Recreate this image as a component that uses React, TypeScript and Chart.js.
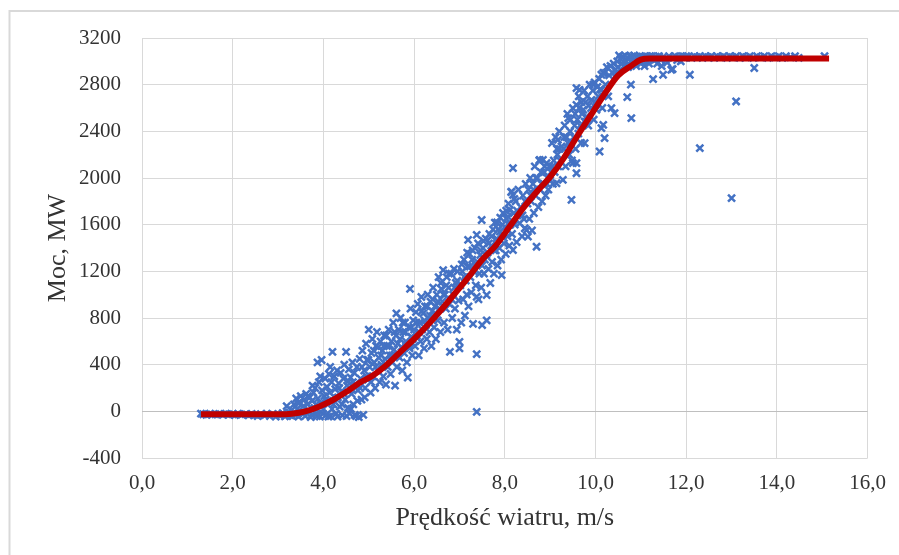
import React, { useEffect, useRef } from "react";
import { Chart, registerables } from "chart.js";

Chart.register(...registerables);

// Tick labels
const xTickValues = [0, 2, 4, 6, 8, 10, 12, 14, 16];
const yTickValues = [-400, 0, 400, 800, 1200, 1600, 2000, 2400, 2800, 3200];

const xTitle = "Prędkość wiatru, m/s";
const yTitle = "Moc, MW";

// Measured points: [wind speed m/s, power MW]
const measuredPoints: [number, number][] = [
  [1.30,-20],[1.35,-25],[1.42,-30],[1.50,-20],[1.55,-28],[1.62,-25],[1.70,-22],[1.78,-30],[1.85,-20],[1.92,-27],
  [2.00,-25],[2.05,-32],[2.12,-20],[2.20,-28],[2.28,-24],[2.35,-35],[2.42,-22],[2.50,-30],[2.55,-40],[2.62,-25],
  [2.70,-35],[2.75,-20],[2.82,-40],[2.90,-28],[2.95,-45],[3.00,-22],[3.05,-38],[3.10,-15],[3.15,-42],[3.19,44],
  [3.20,-25],[3.25,-10],[3.28,-35],
  [3.30,10],[3.35,60],[3.38,-30],[3.40,110],[3.42,20],[3.45,-45],[3.48,80],[3.50,130],[3.52,-10],[3.55,40],
  [3.58,100],[3.60,-40],[3.62,150],[3.65,60],[3.68,5],[3.70,120],
  [3.32,-40],[3.44,70],[3.56,-20],[3.66,130],[3.74,-30],[3.76,220],[3.84,60],[3.86,-40],[3.93,300],[3.99,-20],
  [3.72,-50],[3.75,90],[3.78,160],[3.80,30],[3.82,200],[3.85,-20],[3.87,420],[3.88,110],[3.90,250],[3.92,-45],
  [3.94,70],[3.96,440],[3.97,180],[4.00,20],[4.02,130],[4.04,280],
  [4.06,-30],[4.08,210],[4.10,90],[4.12,320],[4.14,160],[4.16,-40],[4.18,250],[4.20,510],[4.22,60],[4.24,300],
  [4.26,190],[4.28,-20],[4.30,350],[4.32,120],[4.34,240],[4.36,40],[4.38,330],[4.40,170],[4.42,-35],[4.44,280],
  [4.46,400],[4.48,100],[4.50,510],[4.52,220],[4.54,30],[4.56,360],[4.58,-20],[4.60,290],
  [4.05,100],[4.11,-45],[4.15,380],[4.19,20],[4.25,120],[4.31,-45],[4.35,200],[4.41,60],[4.45,150],[4.51,-40],
  [4.55,260],[4.61,20],[4.65,250],[4.69,-30],[4.75,90],[4.81,200],[4.85,380],[4.91,120],[4.95,300],[4.99,440],
  [4.62,150],[4.64,420],[4.66,60],[4.68,330],[4.70,230],[4.72,-40],[4.74,380],[4.76,180],[4.78,-50],[4.80,450],
  [4.82,280],[4.84,100],[4.86,520],[4.88,-30],[4.90,350],[4.92,200],[4.94,580],[4.96,440],[4.98,270],[5.00,700],
  [5.02,380],[5.04,160],[5.06,500],[5.08,620],[5.10,300],[5.12,420],[5.14,200],[5.16,560],[5.18,680],[5.20,350],
  [5.22,460],[5.24,250],[5.26,600],[5.28,400],[5.30,520],[5.32,300],[5.34,650],[5.36,450],[5.38,230],[5.40,560],
  [5.42,380],[5.44,700],[5.46,480],[5.48,320],[5.50,600],
  [5.05,250],[5.11,520],[5.15,380],[5.21,550],[5.27,480],[5.33,560],[5.39,650],[5.45,560],[5.51,480],[5.57,680],
  [5.63,480],[5.69,620],[5.75,760],[5.81,680],[5.87,560],[5.93,720],[5.97,620],
  [5.52,420],[5.54,760],[5.56,530],[5.58,220],[5.60,650],[5.61,840],[5.62,380],[5.64,580],[5.66,700],[5.68,460],
  [5.70,800],[5.72,550],[5.74,350],[5.76,680],[5.78,500],[5.80,760],[5.82,600],[5.84,420],[5.86,290],[5.88,720],
  [5.90,540],[5.91,1050],[5.92,880],[5.94,640],[5.96,480],[5.98,780],[6.00,700],
  [6.02,560],[6.04,850],[6.06,650],[6.08,920],[6.10,480],[6.12,760],[6.14,600],[6.16,980],[6.18,700],[6.20,840],
  [6.22,540],[6.24,900],[6.26,740],[6.28,620],[6.30,1000],[6.32,800],[6.34,680],[6.36,940],[6.38,560],[6.40,860],
  [6.42,1060],[6.44,720],[6.46,900],[6.48,620],[6.50,1000],
  [6.05,760],[6.11,680],[6.17,860],[6.23,780],[6.29,900],[6.35,820],[6.41,960],[6.47,840],[6.53,940],[6.59,1100],
  [6.65,1000],[6.71,1080],[6.77,1180],[6.83,960],[6.89,1060],[6.95,1120],
  [6.52,780],[6.54,1150],[6.56,880],[6.58,680],[6.60,1050],[6.62,940],[6.64,1210],[6.66,760],[6.68,1000],[6.70,880],
  [6.72,1150],[6.74,700],[6.76,1060],[6.78,920],[6.79,510],[6.82,1180],[6.84,800],[6.86,1000],[6.88,1220],[6.90,880],
  [6.92,1100],[6.94,700],[6.96,1200],[6.98,950],[7.00,540],[7.00,595],
  [7.02,1080],[7.04,760],[7.06,1200],[7.08,960],[7.10,1300],[7.12,820],[7.14,1120],[7.16,1000],[7.18,1240],[7.19,1470],
  [7.20,900],[7.22,1350],[7.24,1150],[7.26,1020],[7.28,1300],[7.30,750],[7.32,1200],[7.34,1400],[7.36,1080],[7.38,1512],
  [7.38,490],[7.38,-5],[7.38,982],[7.40,1280],[7.42,960],[7.44,1180],[7.46,1340],[7.48,1060],[7.49,1640],[7.50,1250],
  [7.50,740],[7.60,780],
  [7.05,1260],[7.11,1150],[7.17,1360],[7.23,1240],[7.29,1380],[7.35,1260],[7.41,1440],[7.47,1380],[7.53,1460],[7.59,1340],
  [7.65,1440],[7.71,1500],[7.77,1380],[7.83,1620],[7.89,1540],[7.95,1600],
  [7.52,1400],[7.54,1180],[7.56,1300],[7.58,1480],[7.60,997],[7.62,1360],[7.64,1220],[7.66,1520],[7.68,1100],[7.70,1420],
  [7.72,1280],[7.74,1560],[7.76,1180],[7.78,1617],[7.80,1380],[7.82,1480],[7.84,1250],[7.86,1560],[7.88,1400],[7.90,1660],
  [7.92,1300],[7.93,1168],[7.94,1500],[7.96,1700],[7.98,1440],[8.00,1580],
  [8.02,1350],[8.04,1650],[8.06,1500],[8.07,1669],[8.08,1780],[8.10,1420],[8.11,1726],[8.12,1600],[8.14,1880],[8.15,1883],
  [8.16,1520],[8.18,2084],[8.18,1855],[8.18,1383],[8.20,1700],[8.22,1600],[8.24,1800],[8.26,1450],[8.28,1680],[8.30,1900],
  [8.33,1612],[8.35,1750],[8.38,1500],[8.40,1850],[8.42,1650],[8.44,1569],[8.46,1950],[8.48,1554],[8.50,1780],[8.51,1497],
  [8.03,1720],[8.09,1600],[8.21,1820],[8.27,1720],[8.39,1680],[8.45,1800],[8.57,1850],[8.63,1900],[8.69,2000],[8.81,1950],
  [8.87,2050],[8.93,1950],
  [8.52,1900],[8.54,1650],[8.56,2000],[8.58,1800],[8.60,1550],[8.62,1950],[8.64,1700],[8.66,2100],[8.68,1850],[8.70,1411],
  [8.72,2000],[8.74,1750],[8.76,2150],[8.77,2155],[8.78,1900],[8.80,2050],[8.82,1800],[8.84,2155],[8.86,1950],[8.88,2100],
  [8.90,1850],[8.92,2127],[8.94,2000],[8.96,1900],[8.98,2100],[9.00,1980],
  [9.02,2050],[9.04,2300],[9.06,1950],[9.08,2150],[9.10,2050],[9.12,2350],[9.14,1955],[9.16,2200],[9.17,2327],[9.18,2100],
  [9.20,2400],[9.22,2150],[9.25,2270],[9.28,1984],[9.30,2250],[9.32,2450],[9.34,2100],[9.36,2350],[9.38,2550],[9.40,2513],
  [9.42,2200],[9.44,2400],[9.46,2300],[9.47,1812],[9.48,2150],[9.50,2599],[9.50,2127],
  [9.05,2100],[9.15,2250],[9.21,2250],[9.31,2350],[9.39,2300],[9.45,2500],[9.55,2550],[9.63,2700],[9.69,2650],[9.75,2750],
  [9.85,2620],[9.95,2800],
  [9.52,2350],[9.54,2450],[9.56,2250],[9.58,2771],[9.58,2627],[9.58,2127],[9.58,2041],[9.60,2500],[9.62,2380],[9.64,2600],
  [9.65,2756],[9.66,2450],[9.68,2300],[9.70,2550],[9.73,2585],[9.76,2484],[9.76,2299],[9.78,2650],[9.80,2527],[9.82,2700],
  [9.84,2450],[9.87,2800],[9.90,2600],[9.91,2670],[9.94,2750],[9.96,2500],[9.98,2820],[10.00,2650],[10.02,2585],
  [10.04,2780],[10.06,2700],[10.08,2850],[10.09,2227],[10.10,2760],[10.13,2885],[10.13,2756],[10.13,2427],[10.15,2600],[10.17,2900],
  [10.17,2456],[10.20,2342],[10.20,2900],[10.22,2800],[10.25,2950],[10.28,2700],[10.30,2880],[10.33,2960],[10.35,2599],[10.38,2900],
  [10.40,2980],[10.42,2556],[10.44,2930],[10.46,2900],[10.48,3000],[10.50,2950],
  [10.52,3050],[10.55,3020],[10.58,2980],[10.60,3040],[10.62,2960],[10.65,3050],[10.68,3000],[10.70,2693],[10.70,3030],[10.72,2950],
  [10.75,3045],[10.78,3000],[10.78,2800],[10.79,2513],[10.80,3040],[10.82,2980],[10.85,3050],[10.88,3010],[10.90,2960],[10.92,3040],
  [10.95,3000],[10.98,3045],[11.00,2980],[11.02,3040],[11.05,3010],[11.08,2960],[11.10,3045],[11.12,3000],[11.15,3040],[11.18,2980],
  [11.20,3045],
  [11.22,3020],[11.25,3045],[11.27,2848],[11.30,3010],[11.33,3040],[11.36,2980],[11.40,3045],[11.43,3020],[11.46,2960],[11.49,2885],
  [11.50,3040],[11.55,3010],[11.58,2990],[11.62,3045],[11.67,2928],[11.70,2934],[11.72,3030],[11.76,3045],[11.80,3010],[11.84,3040],
  [11.88,3000],[11.92,3045],[11.96,3030],[12.00,3045],
  [12.05,3040],[12.08,2885],[12.12,3030],[12.18,3045],[12.24,3035],[12.30,2256],[12.30,3045],[12.36,3030],[12.42,3045],[12.48,3035],
  [12.55,3045],[12.62,3030],[12.68,3045],[12.75,3035],[12.82,3045],[12.90,3030],[12.96,3045],[13.00,1827],[13.02,3035],[13.10,2656],
  [13.10,3045],[13.18,3030],[13.25,3045],[13.32,3035],[13.40,3045],[13.48,3030],[13.50,2943],[13.56,3045],[13.64,3035],[13.72,3045],
  [13.80,3030],[13.88,3045],[13.96,3035],[14.04,3045],[14.12,3030],[14.20,3045],[14.30,3035],[14.40,3045],[14.48,3030],[15.05,3045],
];

// Fitted power curve
const curveX = [1.3, 2.0, 2.5, 3.0, 3.3, 3.6, 3.9, 4.2, 4.5, 4.8, 5.1, 5.4, 5.7, 6.0, 6.3, 6.6, 6.9, 7.2, 7.5, 7.8, 8.1, 8.4, 8.7, 9.0, 9.3, 9.6, 9.9, 10.2, 10.5, 10.8, 11.0, 11.2, 12.0, 13.0, 14.0, 15.15];
const curveY = [-25, -25, -25, -25, -20, 0, 40, 95, 165, 245, 310, 400, 510, 620, 740, 870, 1010, 1150, 1300, 1420, 1580, 1740, 1880, 2010, 2170, 2360, 2540, 2720, 2880, 2965, 3015, 3025, 3025, 3025, 3025, 3025];

const FONT = "'Liberation Serif', 'Times New Roman', serif";
const TEXT = "#333333";

export default function App() {
  const ref = useRef<HTMLCanvasElement | null>(null);

  useEffect(() => {
    document.body.style.margin = "0";
    const canvas = ref.current;
    if (!canvas) return;

    const frame = {
      id: "frame",
      beforeDraw(chart: any) {
        const c = chart.ctx;
        c.save();
        c.fillStyle = "#ffffff";
        c.fillRect(0, 0, chart.width, chart.height);
        c.strokeStyle = "#d9d9d9";
        c.lineWidth = 2;
        c.strokeRect(9.5, 11, chart.width + 20, chart.height + 20);
        c.restore();
      },
    };

    const chart = new Chart(canvas, {
      type: "scatter",
      data: {
        datasets: [
          {
            type: "line",
            label: "fit",
            data: curveX.map((x, i) => ({ x, y: curveY[i] })),
            borderColor: "#C00000",
            borderWidth: 6,
            pointRadius: 0,
            fill: false,
            cubicInterpolationMode: "monotone",
            order: 0,
          } as any,
          {
            label: "pomiary",
            data: measuredPoints.map(([x, y]) => ({ x, y })),
            pointStyle: "crossRot",
            pointRadius: 5,
            pointBorderWidth: 2.5,
            borderColor: "#4472C4",
            backgroundColor: "#4472C4",
            order: 1,
          } as any,
        ],
      },
      options: {
        animation: false,
        responsive: false,
        events: [],
        layout: { padding: { top: 38, right: 31, left: 0, bottom: 0 } },
        plugins: { legend: { display: false }, tooltip: { enabled: false } },
        scales: {
          x: {
            type: "linear",
            min: 0,
            max: 16,
            afterBuildTicks: (s: any) => {
              s.ticks = xTickValues.map((v) => ({ value: v }));
            },
            afterFit: (s: any) => {
              s.height = 97;
            },
            grid: { color: "#d9d9d9", lineWidth: 1, drawTicks: false },
            border: { display: false },
            ticks: {
              padding: 13,
              color: TEXT,
              font: { family: FONT, size: 21 },
              callback: (v: any) => Number(v).toFixed(1).replace(".", ","),
            },
            title: {
              display: true,
              text: xTitle,
              color: TEXT,
              font: { family: FONT, size: 26 },
              padding: { top: 0, bottom: 21 },
            },
          },
          y: {
            type: "linear",
            min: -400,
            max: 3200,
            afterBuildTicks: (s: any) => {
              s.ticks = yTickValues.map((v) => ({ value: v }));
            },
            afterFit: (s: any) => {
              s.width = 142;
            },
            grid: {
              color: (ctx: any) => (ctx.tick && ctx.tick.value === 0 ? "#bfbfbf" : "#d9d9d9"),
              lineWidth: 1,
              drawTicks: false,
            },
            border: { display: false },
            ticks: {
              padding: 21,
              color: TEXT,
              font: { family: FONT, size: 21 },
              callback: (v: any) => String(v),
            },
            title: {
              display: true,
              text: yTitle,
              color: TEXT,
              font: { family: FONT, size: 26 },
              padding: { top: 43, bottom: 0 },
            },
          },
        },
      },
      plugins: [frame],
    });

    return () => chart.destroy();
  }, []);

  return (
    <div style={{ width: 899, height: 555, position: "relative" }}>
      <canvas ref={ref} width={899} height={555} style={{ display: "block" }} />
    </div>
  );
}
